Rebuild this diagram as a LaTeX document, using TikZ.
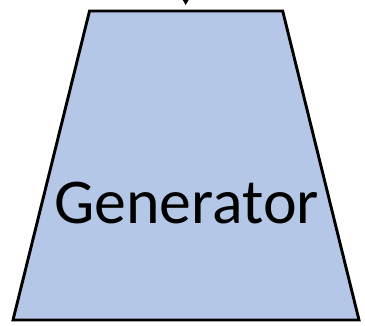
\documentclass[tikz,border=0pt]{standalone}
\usepackage{fontspec}
\setmainfont{Carlito}
\usetikzlibrary{arrows.meta}
\definecolor{genfill}{HTML}{B4C7E7}
\tikzset{
  block/.style={draw=black, line width=2.9pt, line join=miter, fill=genfill},
  feed/.style={draw=black, line width=1pt, -{Triangle[width=5.5pt,length=5pt]}},
  label/.style={font=\fontsize{63.8}{64}\selectfont, inner sep=0pt, anchor=base}
}
\begin{document}
\begin{tikzpicture}[x=1pt,y=1pt]
  \useasboundingbox (0,0) rectangle (365,325);
  % trapezoid generator block
  \coordinate (tl) at (89.5,314);
  \coordinate (tr) at (282.7,314);
  \coordinate (br) at (359,5);
  \coordinate (bl) at (13,5);
  \path[block] (tl) -- (tr) -- (br) -- (bl) -- cycle;
  \node[label] (gen) at (186.5,102) {Generator};
  % incoming input arrow from above
  \coordinate (in) at (185.7,340);
  \coordinate (intip) at (185.7,320);
  \draw[feed] (in) -- (intip);
\end{tikzpicture}
\end{document}
